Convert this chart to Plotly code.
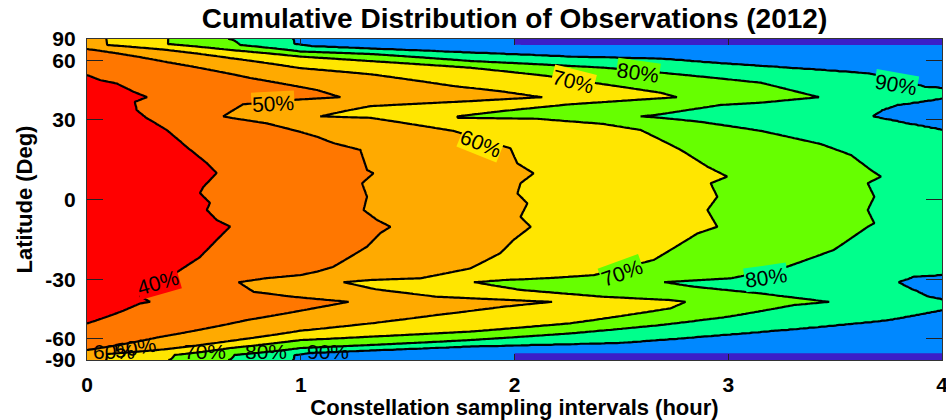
import numpy as np
import plotly.graph_objects as go

# ---- contour levels (fraction) and band colours ----
levels = [0.4, 0.5, 0.6, 0.7, 0.8, 0.9, 1.0]
band_colors = ["#ff0000", "#ff7700", "#ffaa00", "#ffe600", "#66ff00",
               "#00ff8c", "#0088ff", "#3b1fc8"]

# ---- digitised contour positions: latitude (deg) -> sampling interval (hour) ----
c40_lat = [90, 70, 60, 50.9, 48.1, 46.3, 42.2, 39.6, 37.5, 33.9, 30.5, 25.7, 19.1, 13.1, 9.5, 4.5, 2.3,
           -1.25, -3.75, -7.3, -9.7, -14.6, -21.0, -26.1, -32.2, -37.0, -39.6, -40.4, -44.5, -50.6, -60, -70, -90]
c40_x = [-1.0, -0.6, -0.35, 0.0, 0.061, 0.139, 0.217, 0.281, 0.225, 0.233, 0.28, 0.373, 0.467, 0.561, 0.607, 0.545, 0.529,
         0.576, 0.561, 0.607, 0.67, 0.607, 0.529, 0.436, 0.33, 0.248, 0.295, 0.248, 0.155, 0.0, -0.35, -0.6, -1.0]

c50_lat = [90, 76, 69.7, 58.9, 49.2, 43.0, 39.6, 38.6, 36.4, 31.2, 30.4, 28.3, 24.9, 23.0, 20.6, 18.0, 10.6, 9.4, 5.8, 1.0,
           -3.75, -7.3, -9.8, -12.1, -17.1, -20.9, -24.8, -26.7, -28.1, -29.3, -31.0, -35.1, -37.3, -39.6, -42.7,
           -48.7, -58.9, -69.7, -76, -90]
c50_x = [-0.3, -0.2, 0.0, 0.375, 0.764, 1.077, 1.185, 0.998, 0.73, 0.637, 0.684, 0.842, 0.998, 1.076, 1.152, 1.279, 1.31, 1.34, 1.287, 1.31,
         1.294, 1.357, 1.42, 1.372, 1.31, 1.232, 1.152, 1.076, 0.998, 0.842, 0.709, 0.779, 0.966, 1.224, 1.059,
         0.748, 0.342, 0.0, -0.2, -0.3]

c60_lat = [90, 74.3, 68.7, 61.8, 54.9, 51.3, 45.0, 42.5, 39.6, 37.8, 35.6, 33.5, 31.2, 30.6, 25.3, 18.6, 13.0, 9.4, 5.8, 2.2,
           -1.4, -6.2, -9.8, -14.6, -19.5, -25.4, -29.4, -30.1, -31.0, -34.0, -37.3, -39.6, -41.9, -46.0, -50.5,
           -54.8, -61.8, -68.7, -74.3, -90]
c60_x = [0.09, 0.094, 0.375, 0.67, 0.998, 1.326, 1.714, 1.93, 2.13, 1.794, 1.326, 1.208, 1.091, 1.326, 1.714, 1.981, 2.013, 2.089, 2.028, 2.013,
         2.06, 2.028, 2.075, 1.995, 1.934, 1.794, 1.56, 1.326, 1.2, 1.35, 1.638, 2.177, 1.95, 1.638, 1.326,
         0.998, 0.67, 0.375, 0.094, 0.09]

c70_lat = [90, 75.6, 68.7, 62.9, 59.6, 55.2, 50.3, 45.9, 41.7, 39.6, 36.4, 33.5, 31.2, 30.6, 30.2, 28.1, 25.7, 18.0, 11.8, 8.2,
           5.8, 1.0, -3.75, -9.8, -12.2, -22.1, -28.1, -29.2, -30.1, -31.0, -34.3, -37.3, -38.8, -39.6, -42.7,
           -50.5, -55.4, -58.7, -61.1, -67.7, -75.6, -90]
c70_x = [0.38, 0.379, 0.67, 0.998, 1.326, 1.794, 2.155, 2.417, 2.684, 2.76, 2.262, 1.949, 1.732, 1.733, 2.108, 2.417, 2.59, 2.778, 2.903, 2.996,
         2.918, 2.949, 2.903, 2.949, 2.856, 2.652, 2.371, 2.183, 1.949, 1.81, 2.028, 2.417, 2.731, 2.80, 2.731,
         2.262, 1.794, 1.326, 0.998, 0.67, 0.41, 0.38]

c80_lat = [90, 74.3, 67.2, 65.0, 59.6, 55.2, 52.2, 46.7, 43.0, 39.6, 37.1, 36.1, 32.1, 31.2, 30.6, 28.9, 25.3, 20.2, 16.1, 10.6,
           8.2, 5.8, 1.0, -3.75, -8.5, -9.8, -18.3, -24.7, -29.4, -31.0, -32.9, -35.8, -39.6, -41.1, -46.9,
           -51.4, -56.5, -61.1, -65.0, -67.7, -75.6, -90]
c80_x = [0.66, 0.717, 0.998, 1.326, 1.794, 2.417, 2.684, 3.152, 3.29, 3.424, 3.152, 2.965, 2.684, 2.59, 2.684, 2.871, 3.152, 3.433, 3.574, 3.667,
         3.714, 3.652, 3.683, 3.652, 3.683, 3.652, 3.494, 3.277, 3.012, 2.70, 2.838, 3.152, 3.472, 3.307, 2.998,
         2.684, 2.262, 1.794, 1.326, 0.998, 0.69, 0.66]

c90_lat = [90, 76, 72.7, 70.0, 66.2, 62.8, 61.3, 58.0, 56.3, 51.8, 48.1, 44.6, 43.9, 39.6, 39.1, 37.5, 36.1, 33.9, 31.2, 28.4,
           25.7, 20, 10, 0, -10, -20, -28.0, -28.7, -31.0, -37.2, -38.8, -39.6, -43.5, -48.7, -52.4,
           -57.6, -63.2, -66.2, -70.0, -72.7, -76, -90]
c90_x = [0.96, 0.97, 1.05, 1.326, 1.794, 2.262, 2.684, 2.965, 3.152, 3.652, 3.81, 3.916, 4.003, 4.25, 4.0, 3.9, 3.79, 3.72, 3.675, 3.83,
         4.0, 4.3, 4.5, 4.6, 4.5, 4.3, 4.0, 3.869, 3.792, 3.933, 4.01, 4.25, 4.0, 3.745, 3.433,
         2.965, 2.496, 1.794, 1.326, 1.05, 0.97, 0.96]

c100_lat = [90, 74.5, 74.0, -73.0, -73.5, -90]
c100_x = [2.0, 2.0, 10.0, 10.0, 2.0, 2.0]

lat_ticks = [-90, -60, -30, 0, 30, 60, 90]
x_ticks = [0, 1, 2, 3, 4]

# contour labels: text, x (hour), latitude (deg), angle, background band
label_text = ["50%", "60%", "70%", "80%", "90%", "40%", "70%", "80%", "60%", "50%", "70%", "80%", "90%"]
label_x = [0.871, 1.845, 2.276, 2.576, 3.785, 0.333, 2.505, 3.176, 0.125, 0.225, 0.553, 0.838, 1.129]
label_lat = [36.9, 20.6, 47.1, 52.6, 46.0, -31.3, -27.2, -28.9, -70.8, -67.0, -71.8, -71.8, -71.8]
label_angle = [-3, 22, 14, 8, 10, -16, -20, -8, 0, -10, 0, 0, 0]
label_bg = [2, 3, 3, 4, 5, 0, 4, 5, None, None, None, None, None]

# ---- build the grid the contour trace needs ----
contour_defs = [(c40_lat, c40_x), (c50_lat, c50_x), (c60_lat, c60_x), (c70_lat, c70_x),
                (c80_lat, c80_x), (c90_lat, c90_x), (c100_lat, c100_x)]
lat_grid = np.unique(np.round(np.concatenate(
    [np.arange(-90, 90.001, 0.5)] + [np.array(l, float) for l, _ in contour_defs]), 3))
xs = np.round(np.arange(0, 4.0001, 0.01), 3)

cross = np.array([np.interp(lat_grid, np.array(l, float)[::-1], np.array(x, float)[::-1])
                  for l, x in contour_defs])
for i in range(1, len(cross)):
    cross[i] = np.maximum(cross[i], cross[i - 1] + 1e-3)

Z = np.empty((len(lat_grid), len(xs)))
fp = [0.3] + levels + [1.1]
for j in range(len(lat_grid)):
    xp = np.concatenate([[cross[0, j] - 1.0], cross[:, j], [cross[-1, j] + 0.1]])
    Z[j] = np.interp(xs, xp, fp)
Z = np.round(Z, 4)
Y = np.sin(np.radians(lat_grid))

n = len(band_colors)
cscale = [[k / (n - 1), c] for k, c in enumerate(band_colors)]

fig = go.Figure()
fig.add_trace(go.Contour(
    x=xs, y=Y, z=Z, colorscale=cscale, showscale=False, hoverinfo="skip",
    contours=dict(start=0.4, end=1.0, size=0.1, coloring="fill", showlines=False),
    line=dict(width=0, smoothing=0),
))
fig.add_trace(go.Contour(
    x=xs, y=Y, z=Z, showscale=False, hoverinfo="skip",
    contours=dict(start=0.4, end=0.9, size=0.1, coloring="none", showlabels=False),
    line=dict(color="black", width=2.2, smoothing=0),
))

for t, lx, ll, ang, bg in zip(label_text, label_x, label_lat, label_angle, label_bg):
    fig.add_annotation(
        x=lx, y=float(np.sin(np.radians(ll))), xref="x", yref="y", text=t,
        showarrow=False, textangle=ang,
        font=dict(family="Liberation Sans", size=21, color="black"),
        bgcolor=band_colors[bg] if bg is not None else "rgba(0,0,0,0)",
        borderpad=0,
    )

font_b = dict(family="Liberation Sans", color="black", weight="bold")
fig.update_layout(
    width=946, height=420,
    margin=dict(l=87, r=4, t=39, b=60, autoexpand=False),
    paper_bgcolor="white", plot_bgcolor="white",
    showlegend=False,
    title=dict(text="Cumulative Distribution of Observations (2012)",
               x=0.5, xref="paper", xanchor="center",
               y=1 - 18 / 420, yref="container", yanchor="middle",
               font=dict(size=28, **font_b)),
)
fig.update_xaxes(
    range=[0, 4], tickvals=x_ticks, ticktext=[str(v) for v in x_ticks],
    ticks="inside", ticklen=6, tickwidth=1, tickcolor="#222",
    showline=True, linecolor="#333", linewidth=1.2, mirror="ticks",
    showgrid=False, zeroline=False, ticklabelstandoff=6, ticklabeloverflow="allow",
    automargin=False,
    tickfont=dict(size=21, **font_b),
    title=dict(text="Constellation sampling intervals (hour)", font=dict(size=22, **font_b), standoff=2),
)
fig.update_yaxes(
    range=[-1, 1], tickvals=[float(np.sin(np.radians(v))) for v in lat_ticks],
    ticktext=[str(v) for v in lat_ticks],
    ticks="inside", ticklen=16, tickwidth=1, tickcolor="#222",
    showline=True, linecolor="#333", linewidth=1.2, mirror="ticks",
    showgrid=False, zeroline=False, ticklabelstandoff=6, ticklabeloverflow="allow",
    automargin=False,
    tickfont=dict(size=21, **font_b),
    title=dict(text="Latitude (Deg)", font=dict(size=22, **font_b), standoff=6),
)

fig.write_html("out.html", config={"displayModeBar": False, "staticPlot": True},
               post_script="document.body.style.margin='0px';")
